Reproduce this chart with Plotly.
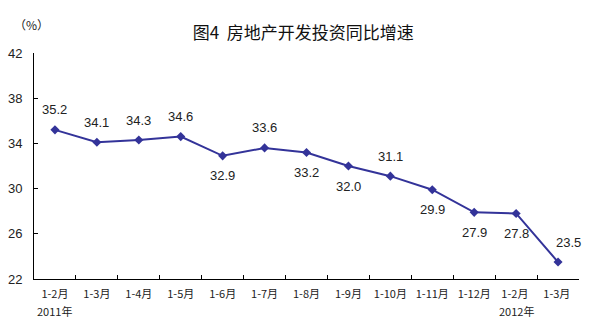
import plotly.graph_objects as go

# Monthly cumulative periods, Jan-Feb 2011 through Jan-Mar 2012
periods = ["1-2月", "1-3月", "1-4月", "1-5月", "1-6月", "1-7月", "1-8月",
           "1-9月", "1-10月", "1-11月", "1-12月", "1-2月 ", "1-3月 "]
growth = [35.2, 34.1, 34.3, 34.6, 32.9, 33.6, 33.2, 32.0, 31.1, 29.9, 27.9, 27.8, 23.5]
# year markers shown under the first period of each year
year_labels = {"1-2月": "2011年", "1-2月 ": "2012年"}
# label placement: +1 above the point, -1 below
label_side = [1, 1, 1, 1, -1, 1, -1, -1, 1, -1, -1, -1, 1]
y_ticks = [22, 26, 30, 34, 38, 42]

line_color = "#333399"

fig = go.Figure()
fig.add_trace(go.Scatter(
    x=periods, y=growth, mode="lines+markers",
    line=dict(color=line_color, width=2),
    marker=dict(symbol="diamond", size=7, color=line_color),
    hoverinfo="x+y", showlegend=False,
))

for i, (p, v, s) in enumerate(zip(periods, growth, label_side)):
    fig.add_annotation(
        x=p, y=v, text=f"{v:.1f}", showarrow=False,
        yshift=20 * s, xshift=10 if i == len(periods) - 1 else 0,
        font=dict(family="Liberation Sans, Arial", size=13, color="#222222"),
    )

# second row of category labels: the year
for p, yr in year_labels.items():
    fig.add_annotation(
        x=p, y=-0.142, xref="x", yref="paper", yanchor="middle",
        text=yr, showarrow=False,
        font=dict(family="Noto Sans CJK SC", size=11, color="#222222"),
    )

# unit label above the value axis
fig.add_annotation(
    x=-0.04, y=1.124, xref="paper", yref="paper", yanchor="middle", xanchor="left",
    text="（%）", showarrow=False,
    font=dict(family="Noto Sans CJK SC", size=12, color="#222222"),
)

fig.update_layout(
    width=598, height=327,
    margin=dict(l=34, r=19, t=53, b=48, autoexpand=False),
    paper_bgcolor="white", plot_bgcolor="white",
    title=dict(text="图4  房地产开发投资同比增速", x=0.507, xanchor="center",
               y=0.9, yanchor="middle",
               font=dict(family="Noto Sans CJK SC", size=17, color="#111111")),
    xaxis=dict(
        type="category", range=[-0.5, len(periods) - 0.5],
        showline=True, linecolor="black", linewidth=1,
        ticks="inside", ticklen=4, tickcolor="black", tickson="boundaries",
        showgrid=False, zeroline=False, tickangle=0,
        tickfont=dict(family="Noto Sans CJK SC", size=11, color="#222222"),
        ticklabelstandoff=5,
    ),
    yaxis=dict(
        range=[22, 42], tickvals=y_ticks,
        showline=True, linecolor="black", linewidth=1,
        ticks="inside", ticklen=4, tickcolor="black",
        showgrid=False, zeroline=False,
        tickfont=dict(family="Liberation Sans, Arial", size=13, color="#222222"),
        ticklabelstandoff=8,
    ),
)

fig.write_html("out.html")
